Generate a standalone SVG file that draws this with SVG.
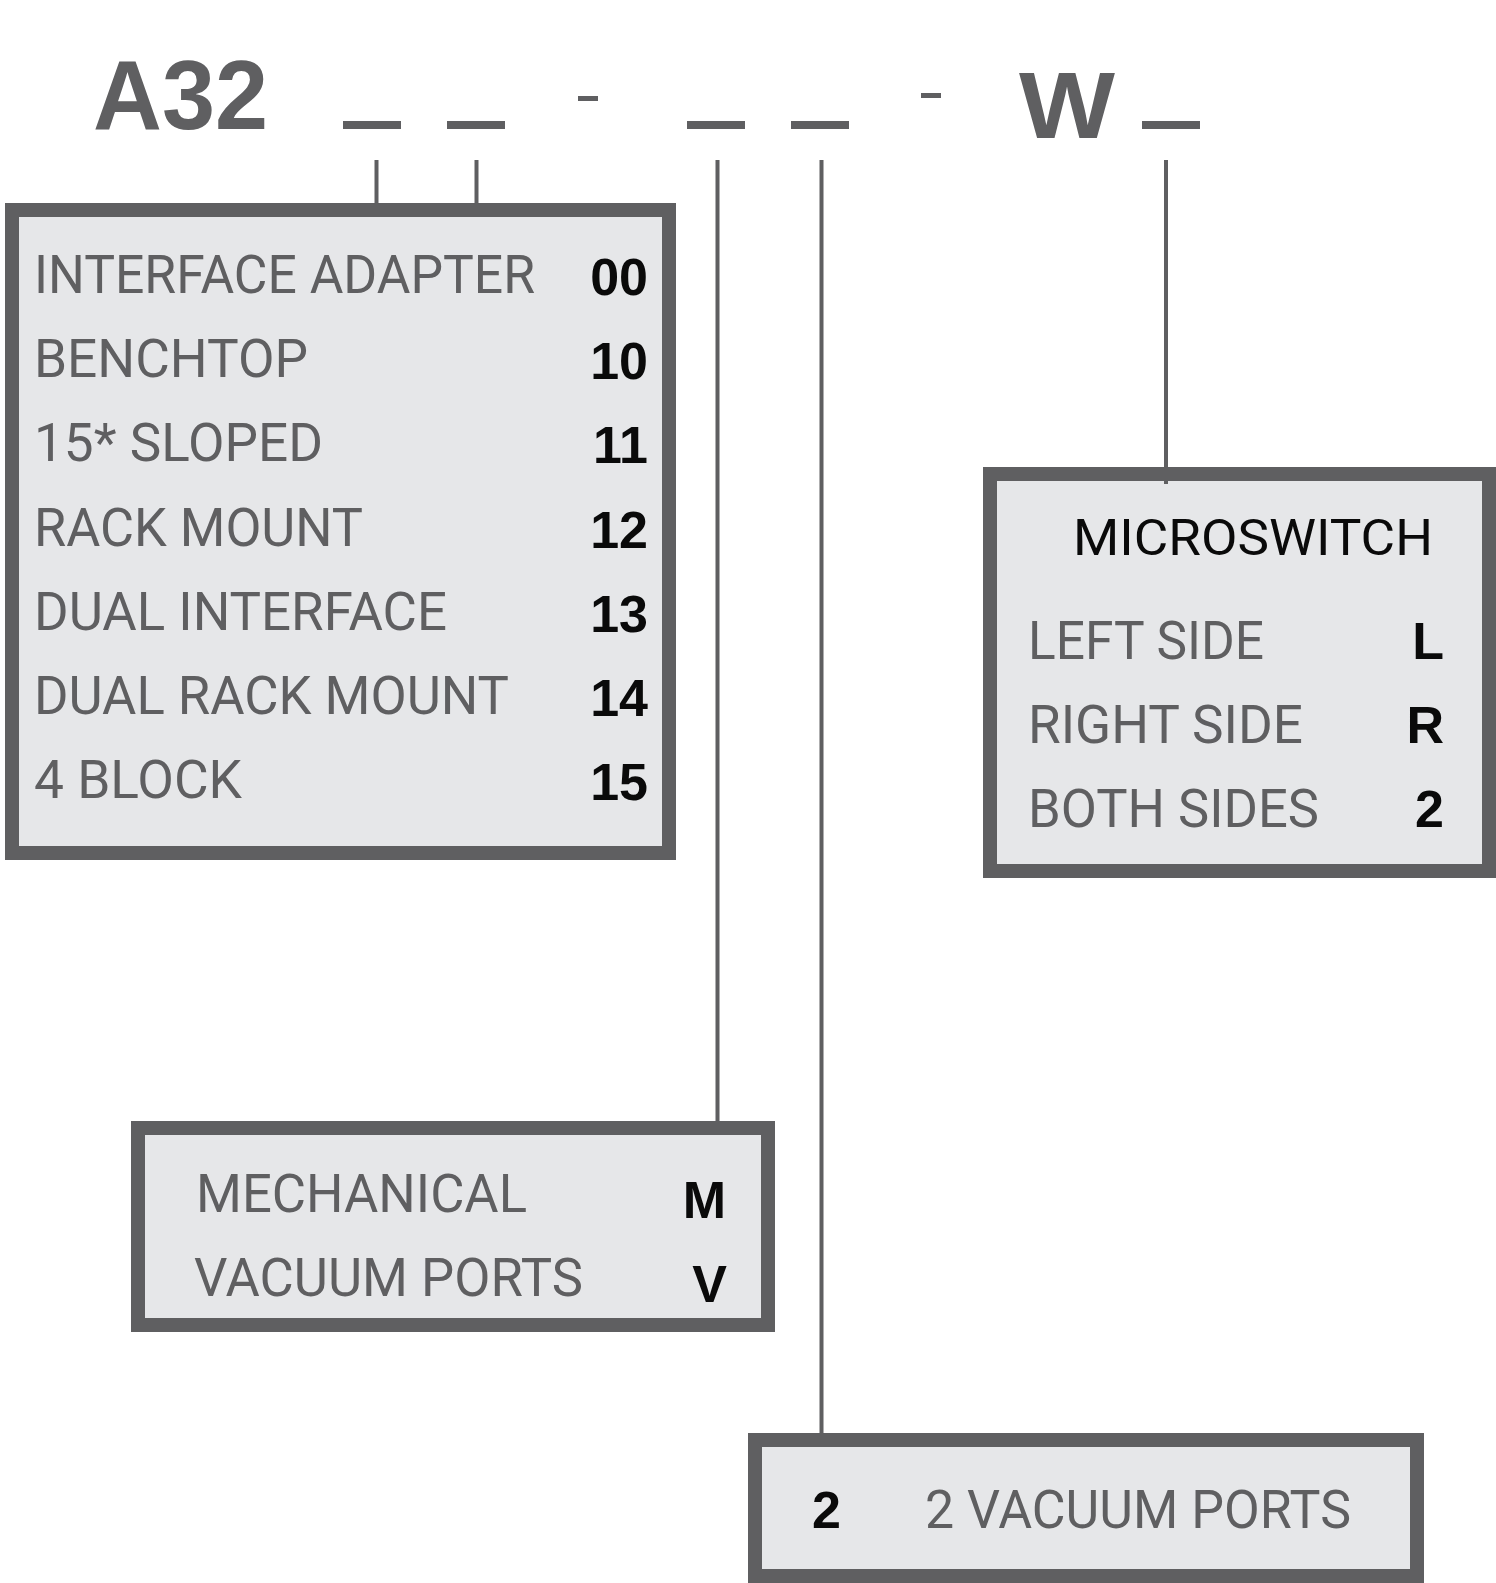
<svg xmlns="http://www.w3.org/2000/svg" width="1496" height="1583" viewBox="0 0 1496 1583">
<style>
.box{fill:#e6e7e9;stroke:#5f5f61;stroke-width:14}
.lbl{font-family:Roboto,"Liberation Sans",sans-serif;font-size:53px;fill:#5f5f61}
.code{font-family:"Liberation Sans",Arial,sans-serif;font-weight:bold;font-size:52px;fill:#0a0a0a;text-anchor:end}
.big{font-family:"Liberation Sans",Arial,sans-serif;font-weight:bold;fill:#5f5f61}
.bar{fill:#5f5f61}
.conn line{stroke:#5f5f61;stroke-width:4}
</style>
<rect width="1496" height="1583" fill="#ffffff"/>
<g id="part-number">
<text class="big" x="93" y="129" font-size="98" textLength="175" lengthAdjust="spacingAndGlyphs">A32</text>
<rect class="bar" x="343" y="121" width="58" height="8"/>
<rect class="bar" x="447" y="121" width="58" height="8"/>
<rect class="bar" x="578" y="96" width="20" height="5"/>
<rect class="bar" x="687" y="121" width="58" height="8"/>
<rect class="bar" x="791" y="121" width="58" height="8"/>
<rect class="bar" x="921" y="93" width="20" height="5"/>
<text class="big" x="1019" y="138" font-size="95" textLength="96" lengthAdjust="spacingAndGlyphs">W</text>
<rect class="bar" x="1142" y="121" width="58" height="8"/>
</g>
<g id="box-base">
<rect class="box" x="12" y="210" width="657" height="643"/>
<text class="lbl" x="34" y="293" textLength="501" lengthAdjust="spacingAndGlyphs">INTERFACE ADAPTER</text>
<text class="lbl" x="34" y="377" textLength="274" lengthAdjust="spacingAndGlyphs">BENCHTOP</text>
<text class="lbl" x="34" y="461" textLength="289" lengthAdjust="spacingAndGlyphs">15* SLOPED</text>
<text class="lbl" x="34" y="546" textLength="329" lengthAdjust="spacingAndGlyphs">RACK MOUNT</text>
<text class="lbl" x="34" y="630" textLength="413" lengthAdjust="spacingAndGlyphs">DUAL INTERFACE</text>
<text class="lbl" x="34" y="714" textLength="475" lengthAdjust="spacingAndGlyphs">DUAL RACK MOUNT</text>
<text class="lbl" x="34" y="798" textLength="208" lengthAdjust="spacingAndGlyphs">4 BLOCK</text>
<text class="code" x="648" y="295">00</text>
<text class="code" x="648" y="379">10</text>
<text class="code" x="648" y="463">11</text>
<text class="code" x="648" y="548">12</text>
<text class="code" x="648" y="632">13</text>
<text class="code" x="648" y="716">14</text>
<text class="code" x="648" y="800">15</text>
</g>
<g id="box-microswitch">
<rect class="box" x="990" y="474" width="499" height="397"/>
<text x="1073" y="555" font-family="Roboto,'Liberation Sans',sans-serif" font-size="50" fill="#0a0a0a" textLength="360" lengthAdjust="spacingAndGlyphs">MICROSWITCH</text>
<text class="lbl" x="1028" y="659" textLength="236" lengthAdjust="spacingAndGlyphs">LEFT SIDE</text>
<text class="lbl" x="1028" y="743" textLength="275" lengthAdjust="spacingAndGlyphs">RIGHT SIDE</text>
<text class="lbl" x="1028" y="827" textLength="291" lengthAdjust="spacingAndGlyphs">BOTH SIDES</text>
<text class="code" x="1444" y="659">L</text>
<text class="code" x="1444" y="743">R</text>
<text class="code" x="1444" y="827">2</text>
</g>
<g id="box-actuation">
<rect class="box" x="138" y="1128" width="630" height="197"/>
<text class="lbl" x="196" y="1212" textLength="331" lengthAdjust="spacingAndGlyphs">MECHANICAL</text>
<text class="lbl" x="194" y="1296" textLength="389" lengthAdjust="spacingAndGlyphs">VACUUM PORTS</text>
<text class="code" x="726" y="1218">M</text>
<text class="code" x="727" y="1302">V</text>
</g>
<g id="box-ports">
<rect class="box" x="755" y="1440" width="662" height="136"/>
<text class="code" x="841" y="1528">2</text>
<text class="lbl" x="925" y="1528" textLength="426" lengthAdjust="spacingAndGlyphs">2 VACUUM PORTS</text>
</g>
<g class="conn" id="connectors">
<line x1="376.5" y1="160" x2="376.5" y2="204"/>
<line x1="476.5" y1="160" x2="476.5" y2="204"/>
<line x1="717.5" y1="160" x2="717.5" y2="1122"/>
<line x1="821.5" y1="160" x2="821.5" y2="1434"/>
<line x1="1166" y1="160" x2="1166" y2="484"/>
</g>
</svg>
